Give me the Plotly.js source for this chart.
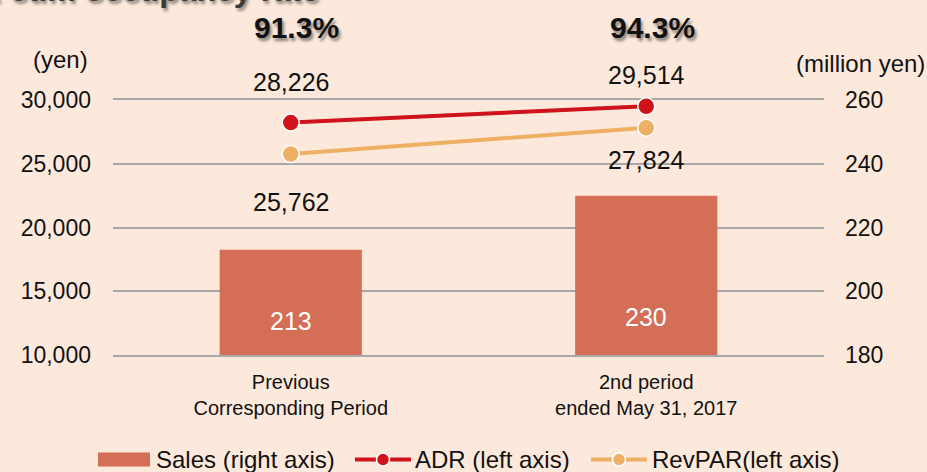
<!DOCTYPE html>
<html>
<head>
<meta charset="utf-8">
<script src="https://cdn.plot.ly/plotly-3.0.1.min.js"></script>
<style>
  html, body { margin: 0; padding: 0; background: #FCE9DB; }
  #chart { width: 927px; height: 472px; }
</style>
</head>
<body>
<div id="chart"></div>
<script>
// ---- data ----
var categories = ["Previous<br>Corresponding Period", "2nd period<br>ended May 31, 2017"];
var salesMillionYen = [213, 230];
var adrYen = [28226, 29514];
var revparYen = [25762, 27824];
var occupancyRate = [91.3, 94.3];
var leftTicks = [10000, 15000, 20000, 25000, 30000];
var rightTicks = [180, 200, 220, 240, 260];
var seriesNames = ["Sales (right axis)", "ADR (left axis)", "RevPAR(left axis)"];

// ---- style ----
var FONT = "Liberation Sans, Arial, Noto Sans CJK JP, sans-serif";
var BG = "#FCE9DB";
var BAR = "#D46E57";
var RED = "#D0121B";
var ORANGE = "#EDB064";
var GRID = "#A8A8A8";
var adrLabelShift = [41, 31];
var revLabelShift = [-48, -32];
var barLabelShift = [34, 38];

// plot area in pixels (for the hand-drawn legend)
var M = { l: 113, r: 103, t: 100, b: 117 };
var PW = 927 - M.l - M.r, PH = 472 - M.t - M.b;
function px(x) { return (x - M.l) / PW; }
function py(y) { return (472 - M.b - y) / PH; }

function fmt(v) { return v.toLocaleString("en-US"); }

var traces = [
  {
    type: "bar", name: seriesNames[0],
    x: categories, y: salesMillionYen, yaxis: "y",
    width: 0.4, marker: { color: BAR },
    hoverinfo: "skip", showlegend: false
  },
  {
    type: "scatter", mode: "lines+markers", name: seriesNames[1],
    x: categories, y: adrYen, yaxis: "y2",
    line: { color: RED, width: 4 },
    marker: { color: RED, size: 17, line: { color: "#FFFFFF", width: 1.5 } },
    cliponaxis: false, hoverinfo: "skip", showlegend: false
  },
  {
    type: "scatter", mode: "lines+markers", name: seriesNames[2],
    x: categories, y: revparYen, yaxis: "y2",
    line: { color: ORANGE, width: 4 },
    marker: { color: ORANGE, size: 17, line: { color: "#FFFFFF", width: 1.5 } },
    cliponaxis: false, hoverinfo: "skip", showlegend: false
  }
];

var annotations = [];
for (var i = 0; i < categories.length; i++) {
  annotations.push({
    x: categories[i], y: adrYen[i], xref: "x", yref: "y2",
    text: fmt(adrYen[i]), showarrow: false, yshift: adrLabelShift[i],
    font: { family: FONT, size: 25, color: "#111111" }
  });
  annotations.push({
    x: categories[i], y: revparYen[i], xref: "x", yref: "y2",
    text: fmt(revparYen[i]), showarrow: false, yshift: revLabelShift[i],
    font: { family: FONT, size: 25, color: "#111111" }
  });
  annotations.push({
    x: categories[i], y: rightTicks[0], xref: "x", yref: "y",
    text: String(salesMillionYen[i]), showarrow: false, yshift: barLabelShift[i],
    font: { family: FONT, size: 25, color: "#FFFFFF" }
  });
  annotations.push({
    x: categories[i], y: 1, xref: "x", yref: "paper", yanchor: "middle",
    text: "<b>" + occupancyRate[i].toFixed(1) + "%</b>", showarrow: false,
    yshift: 73, xshift: 6,
    font: { family: FONT, size: 30, color: "#111111", shadow: "2px 3px 3px rgba(0,0,0,0.45)" }
  });
}
annotations.push({
  x: px(60), xref: "paper", xanchor: "center",
  y: py(60), yref: "paper", yanchor: "middle",
  text: "(yen)", showarrow: false,
  font: { family: FONT, size: 24, color: "#111111" }
});
annotations.push({
  x: px(860), xref: "paper", xanchor: "center",
  y: py(63), yref: "paper", yanchor: "middle",
  text: "(million yen)", showarrow: false,
  font: { family: FONT, size: 24, color: "#111111" }
});
annotations.push({
  x: px(321), xref: "paper", xanchor: "right",
  y: 1, yref: "paper", yanchor: "bottom", yshift: 90,
  text: "<b>ADR and RevPAR cum occupancy rate</b>", showarrow: false,
  font: { family: FONT, size: 32, color: "#3A3A3A", shadow: "2px 3px 3px rgba(0,0,0,0.4)" }
});

// ---- hand-drawn legend (matches reference symbol sizes) ----
var LY = 459.5;
var shapes = [
  { type: "rect", xref: "paper", yref: "paper", x0: px(98), x1: px(150), y0: py(452.5), y1: py(466.5),
    fillcolor: BAR, line: { width: 0 } },
  { type: "line", xref: "paper", yref: "paper", x0: px(355), x1: px(411), y0: py(LY), y1: py(LY),
    line: { color: RED, width: 4 } },
  { type: "circle", xref: "paper", yref: "paper", x0: px(376.5), x1: px(389.5), y0: py(LY - 6.5), y1: py(LY + 6.5),
    fillcolor: RED, line: { color: "#FFFFFF", width: 1.5 } },
  { type: "line", xref: "paper", yref: "paper", x0: px(591), x1: px(647), y0: py(LY), y1: py(LY),
    line: { color: ORANGE, width: 4 } },
  { type: "circle", xref: "paper", yref: "paper", x0: px(612.5), x1: px(625.5), y0: py(LY - 6.5), y1: py(LY + 6.5),
    fillcolor: ORANGE, line: { color: "#FFFFFF", width: 1.5 } }
];
var legendTextX = [154, 413, 650];
for (var k = 0; k < seriesNames.length; k++) {
  annotations.push({
    x: px(legendTextX[k]), xref: "paper", xanchor: "left",
    y: py(LY), yref: "paper", yanchor: "middle",
    text: seriesNames[k], showarrow: false,
    font: { family: FONT, size: 24, color: "#111111" }
  });
}

var layout = {
  width: 927, height: 472,
  paper_bgcolor: BG, plot_bgcolor: BG,
  margin: { l: M.l, r: M.r, t: M.t, b: M.b, pad: 0 },
  font: { family: FONT, color: "#111111" },
  showlegend: false,
  xaxis: {
    type: "category", range: [-0.5, 1.5],
    showgrid: false, zeroline: false,
    showline: true, mirror: true, linecolor: GRID, linewidth: 2, layer: "below traces",
    ticks: "",
    tickfont: { family: FONT, size: 20, color: "#111111" },
    ticklabelstandoff: 8, fixedrange: true
  },
  yaxis: {
    side: "right", range: [180, 260], tickvals: rightTicks,
    showgrid: true, gridcolor: GRID, gridwidth: 2,
    zeroline: false, showline: false, ticks: "",
    tickfont: { family: FONT, size: 23, color: "#111111" },
    ticklabelstandoff: 20, fixedrange: true
  },
  yaxis2: {
    overlaying: "y", side: "left", range: [10000, 30000], tickvals: leftTicks,
    tickformat: ",d",
    showgrid: false, zeroline: false, showline: false, ticks: "",
    tickfont: { family: FONT, size: 23, color: "#111111" },
    ticklabelstandoff: 21, fixedrange: true
  },
  shapes: shapes,
  annotations: annotations
};

Plotly.newPlot("chart", traces, layout, { staticPlot: true, displayModeBar: false });
</script>
</body>
</html>
